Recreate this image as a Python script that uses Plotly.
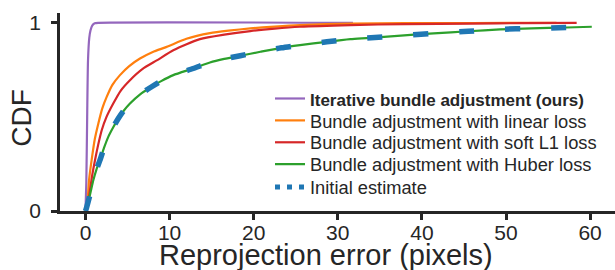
import plotly.graph_objects as go

# ---- data ----
purple_x = [0, 0.1, 0.2, 0.3, 0.45, 0.6, 0.8, 1.1, 1.5, 31.8]
purple_y = [0, 0.15, 0.5, 0.8, 0.92, 0.96, 0.985, 0.997, 1.0, 1.0]

orange_x = [0, 0.15, 0.42, 0.73, 1.1, 1.53, 2.0, 2.52, 3.2, 4.1, 5.2, 6.48, 8.0, 9.65, 12.0, 14.8, 17.0, 19.6, 22.5, 25.5, 31.5, 38, 46, 56]
orange_y = [0, 0.01, 0.163, 0.27, 0.38, 0.465, 0.545, 0.606, 0.67, 0.722, 0.77, 0.81, 0.845, 0.872, 0.915, 0.945, 0.958, 0.97, 0.98, 0.988, 0.996, 0.998, 0.999, 1.0]

red_x = [0, 0.2, 0.5, 0.8, 1.13, 1.5, 1.93, 2.5, 3.3, 4.2, 5.29, 6.8, 8.47, 10.5, 13.6, 16.5, 19.6, 22.5, 25.5, 31.5, 38, 46, 52, 58.4]
red_y = [0, 0.01, 0.1, 0.19, 0.27, 0.35, 0.429, 0.5, 0.571, 0.64, 0.695, 0.755, 0.8, 0.855, 0.913, 0.937, 0.956, 0.969, 0.979, 0.988, 0.993, 0.996, 0.998, 1.0]

green_x = [0, 0.14, 0.5, 0.93, 1.3, 1.72, 2.2, 2.71, 3.3, 3.9, 4.5, 5.29, 6.5, 7.87, 9.0, 10.44, 12.8, 14.8, 16.5, 18.4, 20.8, 23.3, 25.5, 28.7, 31.5, 33.4, 37.5, 41.4, 45.5, 49.3, 53, 57.2, 60.2]
green_y = [0, 0.02, 0.08, 0.163, 0.22, 0.27, 0.335, 0.394, 0.445, 0.491, 0.53, 0.571, 0.62, 0.66, 0.69, 0.722, 0.757, 0.789, 0.808, 0.825, 0.846, 0.867, 0.881, 0.899, 0.913, 0.919, 0.932, 0.944, 0.955, 0.965, 0.97, 0.975, 0.979]

init_x = [0, 0.14, 0.5, 0.93, 1.3, 1.72, 2.2, 2.71, 3.3, 3.9, 4.5, 5.29, 6.5, 7.87, 9.0, 10.44, 12.8, 14.8, 16.5, 18.4, 20.8, 23.3, 25.5, 28.7, 31.5, 33.4, 37.5, 41.4, 45.5, 49.3, 53, 57.2, 60.2]
init_y = [0, 0.02, 0.08, 0.163, 0.22, 0.27, 0.335, 0.394, 0.445, 0.491, 0.53, 0.571, 0.62, 0.66, 0.69, 0.722, 0.757, 0.789, 0.808, 0.825, 0.846, 0.867, 0.881, 0.899, 0.913, 0.919, 0.932, 0.944, 0.955, 0.965, 0.97, 0.975, 0.979]

names = [
    "<span style='font-size:17px'><b>Iterative bundle adjustment (ours)</b></span>",
    "Bundle adjustment with linear loss",
    "Bundle adjustment with soft L1 loss",
    "Bundle adjustment with Huber loss",
    "Initial estimate",
]
colors = ["#9467bd", "#ff7f0e", "#d62728", "#2ca02c", "#1f77b4"]

x_ticks = [0, 10, 20, 30, 40, 50, 60]
y_ticks = [0, 1]
x_title = "Reprojection error (pixels)"
y_title = "CDF"

TXT = "#262626"
FONT = "Liberation Sans, Arial, sans-serif"
LEG_KEYS = ["legend", "legend2", "legend3", "legend4", "legend5"]
LEG_Y = [0.5677, 0.4571, 0.3465, 0.2358, 0.1212]

fig = go.Figure()
series = [(purple_x, purple_y), (orange_x, orange_y), (red_x, red_y), (green_x, green_y)]
for i, ((xs, ys), nm, c) in enumerate(zip(series, names[:4], colors[:4])):
    fig.add_trace(go.Scatter(x=xs, y=ys, mode="lines", name=nm, legend=LEG_KEYS[i],
                             line=dict(color=c, width=2.2, shape="spline", smoothing=0.6)))
# initial estimate: drawn with long dashes, legend shows dotted sample
fig.add_trace(go.Scatter(x=init_x, y=init_y, mode="lines", name=names[4], showlegend=False,
                         line=dict(color=colors[4], width=5.5, dash="15px,31px",
                                   shape="spline", smoothing=0.6)))
fig.add_trace(go.Scatter(x=[None], y=[None], mode="lines", name=names[4], legend=LEG_KEYS[4],
                         line=dict(color=colors[4], width=5, dash="5px,7px")))

layout_legends = {}
for k, yv in zip(LEG_KEYS, LEG_Y):
    layout_legends[k] = dict(x=0.3784, y=yv, xanchor="left", yanchor="middle",
                             bgcolor="rgba(0,0,0,0)", borderwidth=0,
                             font=dict(size=18.3, color=TXT, family=FONT))

fig.update_layout(
    width=615, height=270,
    margin=dict(l=60, r=0, t=13, b=59, autoexpand=False),
    paper_bgcolor="white", plot_bgcolor="white",
    font=dict(family=FONT, color=TXT),
    showlegend=True,
    xaxis=dict(range=[-3.03, 62.96], tickvals=x_ticks, ticktext=[str(v) for v in x_ticks],
               showgrid=False, zeroline=False, showline=True, linecolor=TXT, linewidth=2.5,
               ticks="outside", ticklen=6, tickwidth=2.5, tickcolor=TXT, automargin=False,
               tickfont=dict(size=21, color=TXT, family=FONT), ticklabelstandoff=-5),
    yaxis=dict(range=[0, 1.052], tickvals=y_ticks, ticktext=[str(v) for v in y_ticks],
               showgrid=False, zeroline=False, showline=True, linecolor=TXT, linewidth=2.5,
               ticks="outside", ticklen=6, tickwidth=2.5, tickcolor=TXT, automargin=False,
               tickfont=dict(size=21, color=TXT, family=FONT), ticklabelstandoff=6),
    annotations=[
        dict(text=x_title, xref="paper", yref="paper", x=0.479, y=-0.222,
             xanchor="center", yanchor="middle", showarrow=False,
             font=dict(size=29, color=TXT, family=FONT)),
        dict(text=y_title, xref="paper", yref="paper", x=-0.0685, y=0.471,
             xanchor="center", yanchor="middle", showarrow=False, textangle=-90,
             font=dict(size=28, color=TXT, family=FONT)),
    ],
    **layout_legends,
)

fig.write_html("out.html", config={"displayModeBar": False},
               post_script="document.body.style.margin='0';document.body.style.padding='0';")
